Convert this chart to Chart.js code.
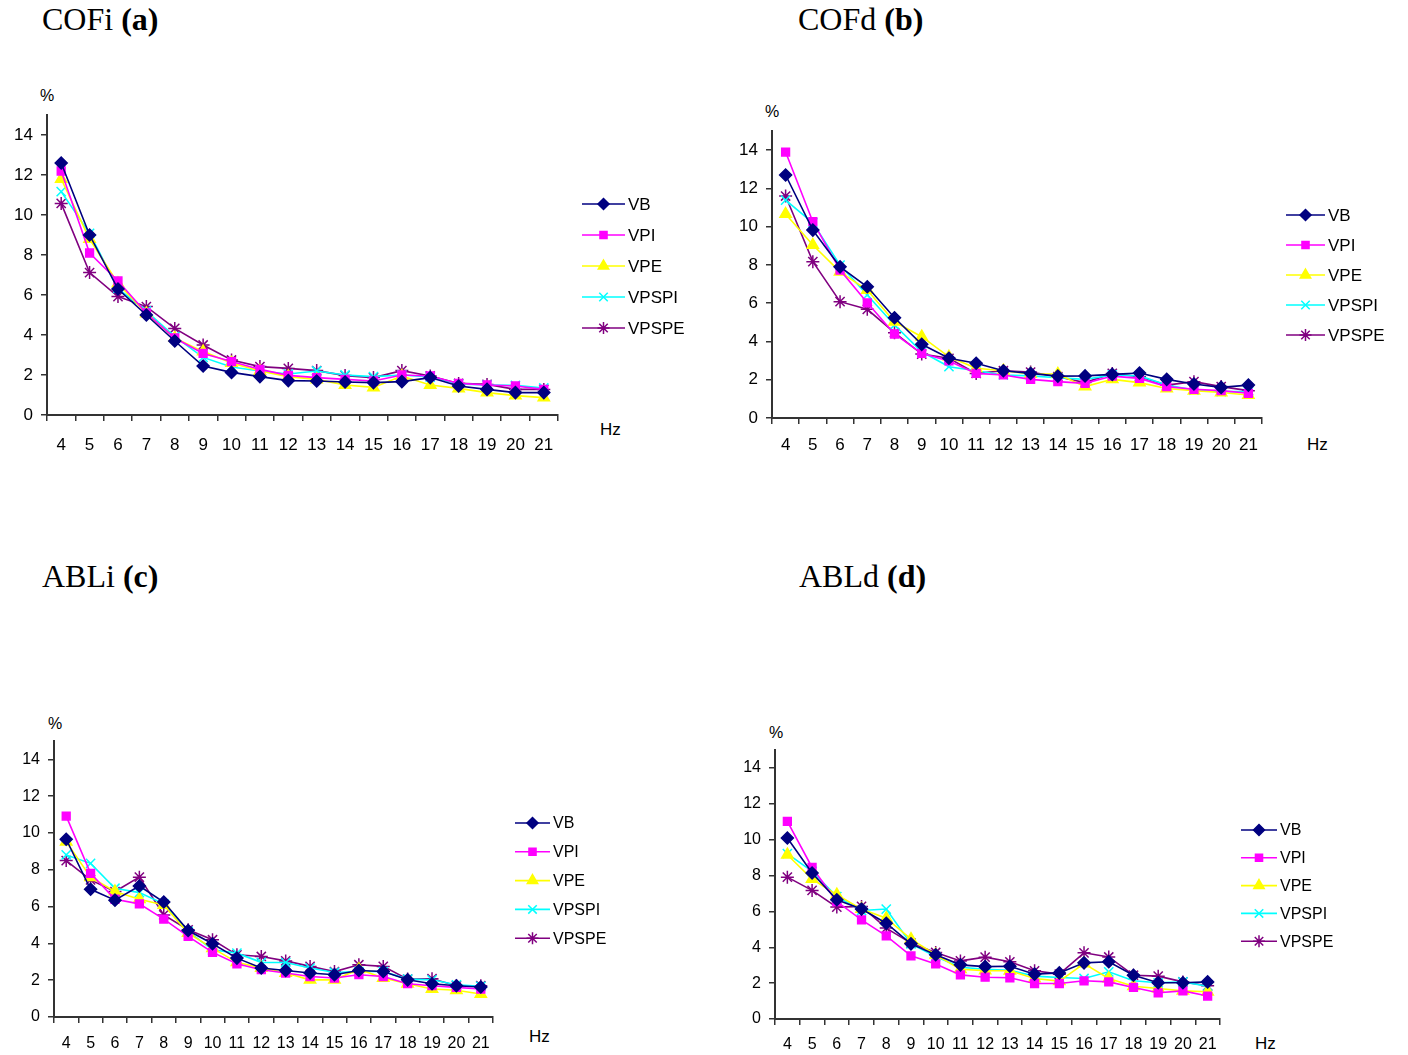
<!DOCTYPE html>
<html>
<head>
<meta charset="utf-8">
<script src="https://cdn.jsdelivr.net/npm/chart.js@4/dist/chart.umd.min.js"></script>
<style>
  html, body { margin: 0; padding: 0; background: #fff; }
  body { width: 1408px; height: 1055px; position: relative; overflow: hidden; }
  canvas { position: absolute; }
  .title { position: absolute; font-family: "Liberation Serif", "Times New Roman", serif; font-size: 32px; color: #000; white-space: nowrap; }
  .lbl { position: absolute; font-family: "Liberation Sans", Arial, sans-serif; color: #000; white-space: nowrap; }
</style>
</head>
<body>
<script>
"use strict";

const HZ = ["4","5","6","7","8","9","10","11","12","13","14","15","16","17","18","19","20","21"];
const SERIES = ["VB", "VPI", "VPE", "VPSPI", "VPSPE"];

// (a) COFi
const cofiVB    = [12.6, 9.0, 6.3, 5.0, 3.7, 2.45, 2.13, 1.92, 1.72, 1.7, 1.65, 1.62, 1.67, 1.87, 1.45, 1.28, 1.12, 1.12];
const cofiVPI   = [12.2, 8.1, 6.7, 5.1, 3.85, 3.08, 2.67, 2.28, 1.98, 1.87, 1.78, 1.7, 2.0, 1.95, 1.58, 1.5, 1.45, 1.28];
const cofiVPE   = [11.8, 8.8, 6.58, 5.08, 3.85, 3.17, 2.6, 2.2, 1.92, 1.78, 1.5, 1.38, 1.95, 1.5, 1.33, 1.12, 0.97, 0.87];
const cofiVPSPI = [11.17, 9.08, 6.33, 5.2, 3.92, 2.88, 2.4, 2.2, 2.05, 2.2, 2.0, 1.92, 2.0, 1.9, 1.55, 1.5, 1.48, 1.35];
const cofiVPSPE = [10.58, 7.12, 5.92, 5.42, 4.33, 3.5, 2.75, 2.42, 2.33, 2.22, 1.97, 1.87, 2.22, 1.95, 1.58, 1.53, 1.28, 1.28];

// (b) COFd
const cofdVB    = [12.7, 9.82, 7.9, 6.86, 5.24, 3.85, 3.12, 2.86, 2.47, 2.33, 2.19, 2.2, 2.28, 2.35, 2.02, 1.78, 1.6, 1.72];
const cofdVPI   = [13.9, 10.26, 7.73, 6.02, 4.39, 3.38, 2.98, 2.33, 2.25, 2.02, 1.9, 1.81, 2.19, 2.07, 1.64, 1.5, 1.43, 1.29];
const cofdVPE   = [10.66, 9.04, 7.64, 6.69, 5.03, 4.25, 3.2, 2.6, 2.47, 2.3, 2.3, 1.64, 2.02, 1.85, 1.54, 1.43, 1.33, 1.2];
const cofdVPSPI = [11.39, 10.2, 7.99, 6.43, 4.86, 3.46, 2.68, 2.47, 2.25, 2.2, 2.1, 2.02, 2.25, 2.2, 1.72, 1.46, 1.38, 1.38];
const cofdVPSPE = [11.6, 8.17, 6.08, 5.68, 4.46, 3.34, 3.12, 2.33, 2.47, 2.4, 2.16, 1.85, 2.33, 2.16, 1.72, 1.9, 1.64, 1.43];

// (c) ABLi
const abliVB    = [9.66, 6.94, 6.35, 7.12, 6.25, 4.7, 3.98, 3.2, 2.66, 2.53, 2.39, 2.3, 2.53, 2.47, 2.02, 1.81, 1.7, 1.63];
const abliVPI   = [10.92, 7.81, 6.4, 6.15, 5.32, 4.38, 3.51, 2.89, 2.57, 2.39, 2.2, 2.12, 2.3, 2.2, 1.81, 1.7, 1.61, 1.52];
const abliVPE   = [9.53, 7.6, 6.82, 6.4, 6.09, 4.56, 3.74, 2.97, 2.66, 2.39, 2.02, 2.02, 2.6, 2.12, 1.81, 1.52, 1.45, 1.25];
const abliVPSPI = [8.81, 8.35, 7.0, 6.76, 6.15, 4.65, 3.65, 3.47, 2.97, 2.96, 2.66, 2.42, 2.47, 2.47, 2.06, 2.02, 1.75, 1.67];
const abliVPSPE = [8.5, 7.45, 6.82, 7.6, 5.55, 4.74, 4.2, 3.38, 3.29, 3.05, 2.75, 2.47, 2.84, 2.75, 2.06, 2.08, 1.7, 1.7];

// (d) ABLd
const abldVB    = [10.09, 8.14, 6.65, 6.13, 5.34, 4.19, 3.58, 3.02, 2.92, 2.94, 2.5, 2.57, 3.13, 3.19, 2.44, 2.02, 2.02, 2.07];
const abldVPI   = [11.02, 8.45, 6.55, 5.53, 4.64, 3.52, 3.07, 2.46, 2.33, 2.3, 1.98, 1.98, 2.13, 2.07, 1.76, 1.46, 1.57, 1.28];
const abldVPE   = [9.16, 7.8, 6.93, 6.13, 5.62, 4.45, 3.58, 2.77, 2.7, 2.69, 2.26, 2.11, 3.09, 2.26, 1.83, 1.7, 1.57, 1.52];
const abldVPSPI = [9.22, 8.23, 6.83, 6.05, 6.13, 4.19, 3.48, 2.89, 2.77, 2.72, 2.39, 2.31, 2.26, 2.63, 2.13, 2.02, 2.07, 1.83];
const abldVPSPE = [7.91, 7.17, 6.24, 6.28, 5.07, 4.23, 3.71, 3.24, 3.45, 3.19, 2.69, 2.5, 3.69, 3.46, 2.44, 2.39, 2.07, 1.85];

const Y_TICKS = [0, 2, 4, 6, 8, 10, 12, 14];
const Y_MAX = 15;

// look of each series: colour + marker
const STYLE = {
  VB:    { color: "#000080", point: "rectRot",  radius: 6,   fill: "#000080" },
  VPI:   { color: "#ff00ff", point: "rect",     radius: 5.5, fill: "#ff00ff" },
  VPE:   { color: "#ffff00", point: "triangle", radius: 6.5, fill: "#ffff00" },
  VPSPI: { color: "#00ffff", point: "crossRot", radius: 6.5, fill: "#00ffff" },
  VPSPE: { color: "#800080", point: "star",     radius: 6.5, fill: "#800080" },
};

// page layout of each panel (plot rect in page px, label spots)
const PANELS = [
  { title: "COFi", tag: "(a)", tx: 42, ty: 1, data: [cofiVB, cofiVPI, cofiVPE, cofiVPSPI, cofiVPSPE],
    plot: { l: 47, t: 115, r: 558, b: 415 }, font: 17, lab: 30,
    pct: [40, 87], hz: [600, 420], leg: { x: 582, y: 204, gap: 31, len: 43, font: 17 } },
  { title: "COFd", tag: "(b)", tx: 798, ty: 1, data: [cofdVB, cofdVPI, cofdVPE, cofdVPSPI, cofdVPSPE],
    plot: { l: 772, t: 131, r: 1262, b: 418 }, font: 17, lab: 27,
    pct: [765, 103], hz: [1307, 435], leg: { x: 1286, y: 215, gap: 30, len: 39, font: 17 } },
  { title: "ABLi", tag: "(c)", tx: 42, ty: 558, data: [abliVB, abliVPI, abliVPE, abliVPSPI, abliVPSPE],
    plot: { l: 54, t: 741, r: 493, b: 1017 }, font: 16, lab: 26,
    pct: [48, 715], hz: [529, 1027], leg: { x: 515, y: 823, gap: 28.8, len: 35, font: 16 } },
  { title: "ABLd", tag: "(d)", tx: 799, ty: 558, data: [abldVB, abldVPI, abldVPE, abldVPSPI, abldVPSPE],
    plot: { l: 775, t: 750, r: 1220, b: 1019 }, font: 16, lab: 25,
    pct: [769, 724], hz: [1255, 1034], leg: { x: 1241, y: 830, gap: 27.8, len: 36, font: 16 } },
];

const AXIS = "#333";
const FONT = '"Liberation Sans", Arial, sans-serif';
const Y_W = 40, PAD_T = 30, X_H = 50, PAD_R = 170;

function addText(cls, html, x, y, size) {
  const d = document.createElement("div");
  d.className = cls; d.innerHTML = html;
  d.style.left = x + "px"; d.style.top = y + "px";
  if (size) d.style.fontSize = size + "px";
  document.body.appendChild(d);
}

// legend drawn beside the plot, line + marker like the original
const sideLegend = {
  id: "sideLegend",
  afterDraw(chart, args, opts) {
    const ctx = chart.ctx;
    ctx.save();
    chart.data.datasets.forEach((ds, i) => {
      const y = opts.y + i * opts.gap;
      ctx.strokeStyle = ds.borderColor; ctx.lineWidth = 1.6;
      ctx.beginPath(); ctx.moveTo(opts.x, y); ctx.lineTo(opts.x + opts.len, y); ctx.stroke();
      ctx.fillStyle = ds.pointBackgroundColor; ctx.strokeStyle = ds.borderColor;
      ctx.lineWidth = 1.5;
      Chart.helpers.drawPoint(ctx, { pointStyle: ds.pointStyle, radius: ds.pointRadius - 0.5, borderWidth: 1.5, rotation: 0 },
        opts.x + opts.len / 2, y);
      ctx.fillStyle = "#000"; ctx.font = opts.font + "px " + FONT;
      ctx.textBaseline = "middle"; ctx.textAlign = "left";
      ctx.fillText(ds.label, opts.x + opts.len + 3, y + 1);
    });
    ctx.restore();
  }
};

function panel(p) {
  addText("title", p.title + " <b>" + p.tag + "</b>", p.tx, p.ty);
  addText("lbl", "%", p.pct[0], p.pct[1], 16);
  addText("lbl", "Hz", p.hz[0], p.hz[1], 17);

  const cv = document.createElement("canvas");
  const left = p.plot.l - Y_W, top = p.plot.t - PAD_T;
  const w = (p.plot.r - p.plot.l) + Y_W + PAD_R;
  const h = (p.plot.b - p.plot.t) + PAD_T + X_H;
  cv.style.left = left + "px"; cv.style.top = top + "px";
  cv.style.width = w + "px"; cv.style.height = h + "px";
  cv.width = w; cv.height = h;
  document.body.appendChild(cv);

  const datasets = SERIES.map((name, i) => {
    const s = STYLE[name];
    return {
      label: name, data: p.data[i],
      borderColor: s.color, backgroundColor: s.fill,
      pointBackgroundColor: s.fill, pointBorderColor: s.color,
      pointStyle: s.point, pointRadius: s.radius, pointBorderWidth: 1.5,
      borderWidth: 1.6, tension: 0, fill: false,
    };
  });

  new Chart(cv, {
    type: "line",
    data: { labels: HZ, datasets },
    options: {
      responsive: false, animation: false, devicePixelRatio: 1,
      layout: { padding: { left: 0, top: PAD_T, right: PAD_R, bottom: 0 } },
      plugins: {
        legend: { display: false }, tooltip: { enabled: false },
        sideLegend: { x: p.leg.x - left, y: p.leg.y - top, gap: p.leg.gap, len: p.leg.len, font: p.leg.font },
      },
      scales: {
        x: {
          offset: true,
          grid: { offset: true, drawOnChartArea: false, drawTicks: true, tickLength: 6, color: AXIS, lineWidth: 1.5 },
          border: { color: AXIS, width: 2 },
          ticks: { color: "#000", font: { family: FONT, size: p.font }, padding: p.lab - 6 - p.font / 2 - 1, maxRotation: 0, autoSkip: false },
          afterFit(s) { s.height = X_H; },
        },
        y: {
          min: 0, max: Y_MAX,
          afterBuildTicks(s) { s.ticks = Y_TICKS.map((v) => ({ value: v })); },
          grid: { drawOnChartArea: false, drawTicks: true, tickLength: 6, color: AXIS, lineWidth: 1.5 },
          border: { color: AXIS, width: 2 },
          ticks: { color: "#000", font: { family: FONT, size: p.font }, padding: 8 },
          afterFit(s) { s.width = Y_W; },
        },
      },
    },
    plugins: [sideLegend],
  });
}

PANELS.forEach(panel);
</script>
</body>
</html>
